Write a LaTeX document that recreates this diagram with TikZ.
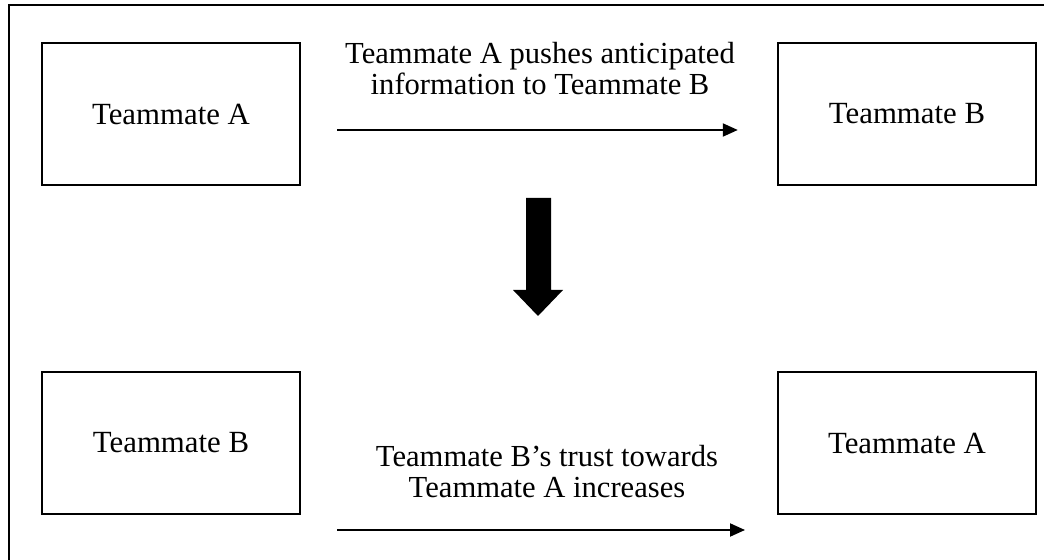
\documentclass[tikz,border=0pt]{standalone}
\usepackage{fontspec}
\setmainfont{Liberation Serif}
\usetikzlibrary{arrows.meta, positioning}

\tikzset{
  matebox/.style={draw, line width=1.2pt, minimum width=129pt, minimum height=71pt,
                  inner sep=0pt, font=\fontsize{15.4}{15.5}\selectfont},
  thinarrow/.style={-{Triangle[length=7.5pt, width=6.5pt]}, line width=1pt},
  arrowtext/.style={align=center, font=\fontsize{15.3}{15.5}\selectfont}
}

\begin{document}
\begin{tikzpicture}[x=0.5pt, y=-0.5pt]
  \useasboundingbox (0,0) rectangle (1044,560);
  \clip (0,0) rectangle (1044,560);
  % outer frame, cut at right and bottom
  \draw[line width=1.2pt] (9,5) rectangle (1080,600);

  % before
  \node[matebox] (topA) at (171,114) {Teammate A};
  \node[matebox] (topB) at (907,114) {Teammate B};
  \draw[thinarrow, shorten <=18pt, shorten >=19.5pt]
    ([yshift=-8pt]topA.east) -- ([yshift=-8pt]topB.west);
  \node[arrowtext] (pushtext) at (540,69) {Teammate A pushes anticipated\\information to Teammate B};

  % big down arrow
  \fill (526,198) -- (551,198) -- (551,290) -- (563,290) -- (538,316)
        -- (513,290) -- (526,290) -- cycle;

  % after
  \node[matebox] (botB) at (171,443) {Teammate B};
  \node[matebox] (botA) at (907,443) {Teammate A};
  \coordinate (trustfrom) at (337,530);
  \coordinate (trustto) at (745,530);
  \draw[thinarrow] (trustfrom) -- (trustto);
  \node[arrowtext] (trusttext) at (547,472) {Teammate B’s trust towards\\Teammate A increases};
\end{tikzpicture}
\end{document}
